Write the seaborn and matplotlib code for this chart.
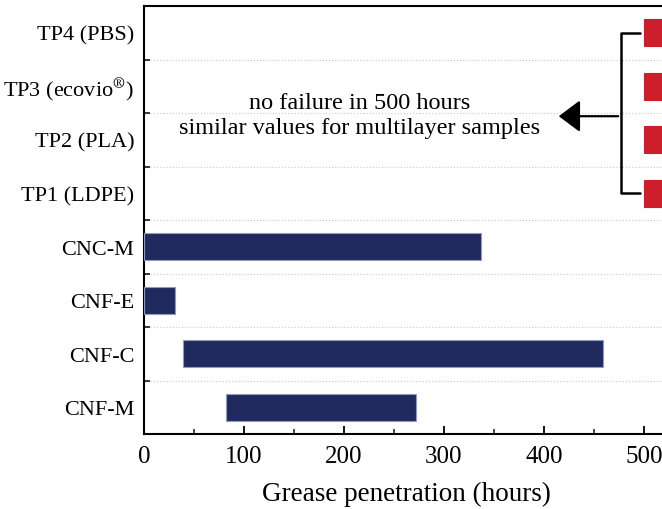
import matplotlib
matplotlib.use("Agg")
import matplotlib.pyplot as plt
from matplotlib.ticker import MultipleLocator, FixedLocator, NullFormatter
import seaborn as sns
import pandas as pd

# Grease penetration ranges (start / end in hours)
categories = ["TP4 (PBS)", r"TP3 (ecovio$^{\circledR}$)", "TP2 (PLA)", "TP1 (LDPE)",
              "CNC-M", "CNF-E", "CNF-C", "CNF-M"]
starts = [500, 500, 500, 500, 0, 0, 39, 82]
ends = [545, 545, 545, 545, 337, 31, 459, 272]
groups = ["ref", "ref", "ref", "ref", "coat", "coat", "coat", "coat"]

x_ticks = [0, 100, 200, 300, 400, 500]

sns.set_theme(style="white")
plt.rcParams["font.family"] = ["Liberation Serif", "DejaVu Serif"]
plt.rcParams["mathtext.fontset"] = "stix"

df = pd.DataFrame({"cat": categories, "start": starts, "end": ends, "group": groups})
df["span"] = df["end"] - df["start"]

fig = plt.figure(figsize=(6.62, 5.10), dpi=100)
ax = fig.add_axes([144 / 662, 75 / 510, 524 / 662, 428 / 510])

palette = {"ref": "#cc1f2b", "coat": "#202a5e"}
edges = {"ref": "#cc1f2b", "coat": "#8e9cc4"}
sns.barplot(data=df, x="span", y="cat", hue="group", order=categories,
            palette=palette, saturation=1, dodge=False, width=0.5, legend=False,
            linewidth=0.8, ax=ax, zorder=3)

# shift each bar so it starts at its recorded onset
bars = [p for p in ax.patches if p.get_height() > 0]
bars.sort(key=lambda p: p.get_y())
for p, s, g in zip(bars, starts, groups):
    p.set_x(s)
    p.set_edgecolor(edges[g])

ax.set_xlim(0, 524)
ax.set_ylim(len(categories) - 0.5, -0.5)

ax.xaxis.set_major_locator(FixedLocator(x_ticks))
ax.xaxis.set_minor_locator(MultipleLocator(50))
ax.tick_params(axis="x", which="major", direction="in", length=6, width=1.3,
               labelsize=18, pad=8, bottom=True, top=False, colors="black")
ax.tick_params(axis="x", which="minor", direction="in", length=3.5, width=1.2,
               bottom=True, top=False)

# category labels at row centres, tick marks and dotted rules at row boundaries
bounds = [i + 0.5 for i in range(len(categories) - 1)]
ax.yaxis.set_major_locator(FixedLocator(bounds))
ax.yaxis.set_major_formatter(NullFormatter())
ax.yaxis.set_minor_locator(FixedLocator(list(range(len(categories)))))
ax.set_yticks(range(len(categories)), labels=categories, minor=True)
ax.tick_params(axis="y", which="major", direction="in", length=4, width=1.3, left=True)
ax.tick_params(axis="y", which="minor", length=0, labelsize=16, pad=7, colors="black")
ax.grid(axis="y", which="major", linestyle=(0, (1, 1.5)), color="#d0d0d0", linewidth=0.9, zorder=0)

for side in ["left", "top", "bottom"]:
    ax.spines[side].set_visible(True)
    ax.spines[side].set_color("black")
    ax.spines[side].set_linewidth(1.5)
ax.spines["right"].set_visible(False)

ax.set_xlabel("Grease penetration (hours)", fontsize=19.5, labelpad=10, color="black")
ax.set_ylabel("")

# bracket grouping the reference films plus pointer to the note
ax.plot([496, 477, 477, 496], [0, 0, 3, 3], color="black", linewidth=1.8,
        solid_joinstyle="round", solid_capstyle="round", zorder=4)
ax.annotate("", xy=(412, 1.56), xytext=(477, 1.56),
            arrowprops=dict(arrowstyle="-|>,head_length=0.6,head_width=0.45",
                            color="black", lw=1.6, mutation_scale=22))
ax.text(216, 1.53, "no failure in 500 hours\nsimilar values for multilayer samples",
        ha="center", va="center", fontsize=17.5, linespacing=1.25, color="black")

fig.savefig("out.png", dpi=100)
